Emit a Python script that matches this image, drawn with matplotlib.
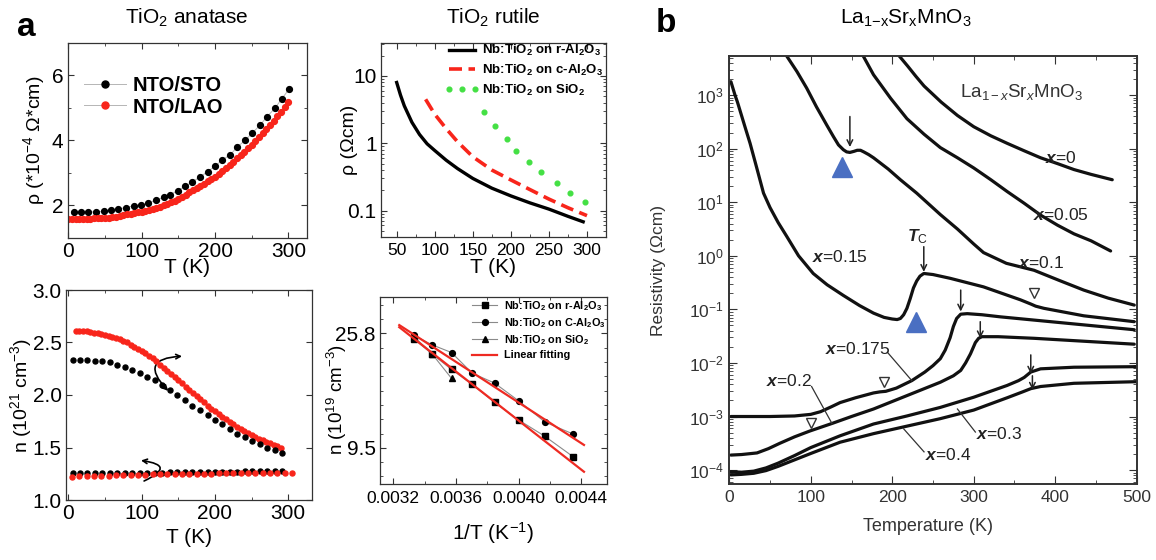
import numpy as np
import matplotlib
matplotlib.use('Agg')
import matplotlib.pyplot as plt
from matplotlib.patches import FancyArrowPatch
from matplotlib.ticker import FixedLocator, MultipleLocator, LogLocator, NullFormatter, FixedFormatter

plt.rcParams['font.family'] = ['Liberation Sans', 'DejaVu Sans']
plt.rcParams['mathtext.fontset'] = 'custom'
plt.rcParams['mathtext.rm'] = 'Liberation Sans'
plt.rcParams['mathtext.it'] = 'Liberation Sans:italic'
plt.rcParams['mathtext.bf'] = 'Liberation Sans:bold'
try:
    plt.rcParams['mathtext.bfit'] = 'Liberation Sans:bold:italic'
except Exception:
    pass

# ---------------- data: TiO2 anatase, resistivity ----------------
T_sto = [7, 17, 27, 38, 48, 58, 68, 78, 89, 99, 109, 119, 130, 139, 149, 159, 169, 180,
         190, 200, 210, 221, 230, 241, 251, 261, 271, 282, 291, 301]
rho_sto = [1.79, 1.79, 1.79, 1.80, 1.81, 1.84, 1.88, 1.93, 1.98, 2.01, 2.06, 2.16, 2.24,
           2.33, 2.45, 2.58, 2.72, 2.88, 3.04, 3.20, 3.40, 3.56, 3.79, 4.00, 4.23, 4.46,
           4.73, 5.00, 5.28, 5.58]
T_lao = list(range(0, 301, 5))
rho_lao = [1.58, 1.58, 1.58, 1.58, 1.585, 1.587, 1.59, 1.592, 1.595, 1.60, 1.61, 1.62,
           1.635, 1.65, 1.67, 1.69, 1.72, 1.745, 1.77, 1.785, 1.80, 1.825, 1.85, 1.885,
           1.92, 1.96, 2.00, 2.045, 2.09, 2.145, 2.20, 2.265, 2.33, 2.395, 2.46, 2.53,
           2.60, 2.67, 2.74, 2.81, 2.88, 2.97, 3.06, 3.145, 3.23, 3.34, 3.45, 3.545,
           3.64, 3.75, 3.86, 3.975, 4.09, 4.22, 4.35, 4.475, 4.60, 4.74, 4.88, 5.025, 5.17]

# ---------------- data: TiO2 anatase, carrier density ----------------
T_n_lao_hi = list(range(10, 291, 5))
n_lao_hi = [2.61, 2.61, 2.61, 2.605, 2.60, 2.595, 2.59, 2.58, 2.575, 2.565, 2.555, 2.54,
            2.53, 2.515, 2.50, 2.48, 2.46, 2.44, 2.42, 2.40, 2.375, 2.35, 2.32, 2.29,
            2.26, 2.23, 2.20, 2.17, 2.14, 2.11, 2.08, 2.05, 2.02, 1.99, 1.96, 1.93, 1.90,
            1.87, 1.845, 1.82, 1.795, 1.77, 1.745, 1.72, 1.70, 1.68, 1.66, 1.64, 1.62,
            1.60, 1.585, 1.57, 1.555, 1.54, 1.525, 1.51, 1.50]
T_n_sto_hi = [6, 16, 26, 36, 46, 57, 67, 77, 87, 98, 108, 118, 128, 139, 149, 159, 169,
              180, 190, 200, 210, 220, 230, 241, 251, 261, 271, 282, 292]
n_sto_hi = [2.333, 2.333, 2.33, 2.327, 2.32, 2.31, 2.29, 2.27, 2.24, 2.21, 2.17, 2.14,
            2.10, 2.05, 2.00, 1.95, 1.90, 1.86, 1.81, 1.76, 1.72, 1.68, 1.63, 1.60, 1.56,
            1.53, 1.50, 1.48, 1.45]
T_n_sto_lo = [6, 16, 26, 36, 46, 57, 67, 77, 87, 98, 108, 118, 128, 139, 149, 159, 169,
              180, 190, 200, 210, 220, 230, 241, 251, 261, 271, 282, 292]
n_sto_lo = [1.258, 1.258, 1.258, 1.258, 1.258, 1.258, 1.258, 1.259, 1.259, 1.26, 1.26,
            1.26, 1.261, 1.262, 1.262, 1.263, 1.264, 1.265, 1.266, 1.268, 1.269, 1.27,
            1.271, 1.272, 1.272, 1.272, 1.272, 1.272, 1.272]
T_n_lao_lo = [5, 15, 25, 35, 45, 55, 65, 75, 85, 95, 105, 115, 125, 135, 145, 155, 165,
              175, 185, 195, 205, 215, 225, 235, 245, 255, 265, 275, 285, 295, 305]
n_lao_lo = [1.222, 1.224, 1.226, 1.228, 1.23, 1.232, 1.234, 1.236, 1.238, 1.24, 1.241,
            1.243, 1.244, 1.246, 1.247, 1.248, 1.249, 1.25, 1.251, 1.252, 1.253, 1.254,
            1.255, 1.256, 1.257, 1.258, 1.259, 1.26, 1.26, 1.259, 1.254]

# ---------------- data: TiO2 rutile, resistivity ----------------
T_r_al = [50, 55, 60, 70, 80, 90, 100, 115, 130, 150, 175, 200, 225, 250, 275, 295]
rho_r_al = [8.0, 5.2, 3.6, 2.05, 1.35, 0.98, 0.78, 0.56, 0.42, 0.30, 0.215, 0.165,
            0.13, 0.105, 0.082, 0.068]
T_c_al = [88, 100, 115, 130, 150, 175, 200, 225, 250, 275, 300]
rho_c_al = [4.5, 2.7, 1.65, 1.05, 0.63, 0.40, 0.285, 0.205, 0.148, 0.11, 0.084]
T_sio2 = [165, 179, 195, 207, 224, 240, 260, 278, 298]
rho_sio2 = [2.95, 1.83, 1.15, 0.78, 0.52, 0.37, 0.255, 0.18, 0.136]

# ---------------- data: TiO2 rutile, n vs 1/T ----------------
invT = [1/300, 1/290, 1/280, 1/270, 1/260, 1/250, 1/240, 1/230]
n_r_al = [24.5, 21.5, 18.8, 16.5, 14.1, 12.1, 10.5, 8.78]
n_c_al = [25.3, 23.3, 21.8, 18.2, 16.7, 14.3, 11.9, 10.7]
invT_sio2 = [1/300, 1/290, 1/280]
n_sio2 = [25.0, 21.5, 17.4]
fit_invT = [0.003238, 0.004417]
fit_c_al = [27.7, 9.73]
fit_r_al = [27.2, 7.70]

# ---------------- data: La1-xSrxMnO3 resistivity (log10 of Ohm cm) ----------------
T_x0 = [205, 208, 219, 229, 239, 260, 280, 300, 321, 341, 362, 382, 403, 423, 444, 470]
lg_x0 = [3.80, 3.74, 3.54, 3.35, 3.17, 2.87, 2.62, 2.41, 2.24, 2.10, 1.96, 1.83, 1.72,
         1.61, 1.52, 1.42]
T_x005 = [160, 164, 177, 198, 218, 239, 259, 280, 300, 321, 341, 362, 382, 403, 423, 444, 468]
lg_x005 = [3.9, 3.74, 3.38, 2.94, 2.56, 2.27, 2.02, 1.83, 1.64, 1.42, 1.20, 0.98, 0.76,
           0.57, 0.41, 0.28, 0.09]
T_x01 = [66, 70, 83, 95, 107, 120, 128, 134, 140, 144, 148, 153, 157, 161, 165, 171, 177,
         195, 210, 230, 259, 280, 300, 312, 340, 374, 405, 435, 465, 497]
lg_x01 = [3.95, 3.74, 3.44, 3.13, 2.78, 2.43, 2.22, 2.07, 1.98, 1.94, 1.93, 1.95, 1.97,
          1.97, 1.94, 1.89, 1.83, 1.62, 1.42, 1.17, 0.77, 0.50, 0.22, 0.06, -0.14, -0.27,
          -0.46, -0.64, -0.79, -0.92]
T_x015 = [2, 4, 7, 10, 13, 20, 25.5, 33, 42, 50, 60, 70.6, 85, 103, 120, 140, 160, 177,
          190, 200, 206, 210, 214, 218, 222, 226, 230, 234, 238.7, 250, 271, 312, 357, 370,
          376, 386, 435, 497]
lg_x015 = [3.25, 3.15, 3.0, 2.87, 2.72, 2.37, 2.10, 1.68, 1.17, 0.90, 0.62, 0.36, 0.0,
           -0.33, -0.54, -0.74, -0.93, -1.07, -1.15, -1.18, -1.19, -1.17, -1.10, -0.98,
           -0.80, -0.60, -0.47, -0.38, -0.33, -0.35, -0.42, -0.58, -0.82, -0.90, -0.94,
           -0.98, -1.12, -1.23]
T_x0175 = [2, 50, 80, 100, 112, 125, 136, 155, 177, 185, 192, 205, 224, 240, 250, 259, 265,
           271, 275, 279, 284, 292, 310, 333, 415, 497]
lg_x0175 = [-3.0, -3.0, -2.99, -2.96, -2.91, -2.82, -2.74, -2.65, -2.56, -2.54, -2.53,
            -2.47, -2.33, -2.17, -2.05, -1.92, -1.76, -1.53, -1.32, -1.17, -1.09, -1.08,
            -1.10, -1.14, -1.26, -1.38]
T_x02 = [2, 15, 34, 48, 62, 80, 99, 126, 150, 177, 218, 259, 275, 284, 290, 296, 302, 306,
         310, 330, 374, 497]
lg_x02 = [-3.72, -3.71, -3.68, -3.60, -3.50, -3.38, -3.27, -3.13, -3.00, -2.86, -2.61,
          -2.36, -2.24, -2.14, -2.00, -1.83, -1.62, -1.54, -1.51, -1.51, -1.54, -1.65]
T_x03 = [2, 15, 30, 45, 60, 80, 100, 136, 177, 218, 259, 300, 341, 355, 362, 370, 382, 423, 500]
lg_x03 = [-4.03, -4.04, -4.02, -3.96, -3.87, -3.73, -3.58, -3.36, -3.14, -2.99, -2.83,
          -2.64, -2.42, -2.33, -2.27, -2.17, -2.11, -2.08, -2.07]
T_x04 = [2, 15, 30, 45, 60, 80, 100, 136, 177, 218, 259, 300, 341, 360, 370, 382, 423, 500]
lg_x04 = [-4.09, -4.08, -4.06, -4.01, -3.93, -3.81, -3.69, -3.48, -3.32, -3.18, -3.04,
          -2.88, -2.65, -2.54, -2.48, -2.44, -2.38, -2.35]
blue_tri_T = [138.3, 228.8]
blue_tri_lg = [1.66, -1.23]
open_tri_T = [100, 190, 374]
open_tri_lg = [-3.12, -2.36, -0.70]

W, H = 1156, 560
fig = plt.figure(figsize=(W / 100, H / 100), dpi=100)


def px_axes(l, t, r, b):
    return fig.add_axes([l / W, 1 - b / H, (r - l) / W, (b - t) / H])


def style_box(ax, lw=0.9, color='#333333'):
    for s in ax.spines.values():
        s.set_linewidth(lw)
        s.set_color(color)
    ax.tick_params(which='both', direction='in', top=True, right=True, color=color)
    ax.tick_params(which='major', length=4)
    ax.tick_params(which='minor', length=2.5)


RED = '#f8251b'

# ---------------- panel a1 ----------------
ax1 = px_axes(67.7, 43, 306.7, 237.7)
ax1.plot(T_sto, rho_sto, '-', color='#b5b5b5', lw=0.7, marker='o', ms=4.2,
         mfc='black', mec='black', label='NTO/STO')
ax1.plot(T_lao, rho_lao, '-', color='#b5b5b5', lw=0.7, marker='o', ms=4.2,
         mfc=RED, mec=RED, label='NTO/LAO')
ax1.set_xlim(-1, 325)
ax1.set_ylim(1, 7)
style_box(ax1)
ax1.xaxis.set_major_locator(FixedLocator([0, 100, 200, 300]))
ax1.xaxis.set_minor_locator(MultipleLocator(50))
ax1.yaxis.set_major_locator(FixedLocator([2, 4, 6]))
ax1.yaxis.set_minor_locator(MultipleLocator(1))
ax1.tick_params(labelsize=15, pad=3)
ax1.set_xlabel('T (K)', fontsize=15)
ax1.set_ylabel(r'ρ (*10$^{-4}$ Ω*cm)', fontsize=14)
ax1.xaxis.set_label_coords(0.5, -0.105)
ax1.yaxis.set_label_coords(-0.087, 0.5)
ax1.legend(loc='upper left', bbox_to_anchor=(0.068, 0.83), frameon=False,
           prop={'weight': 'bold', 'size': 14.5}, handlelength=2.1,
           handletextpad=0.3, labelspacing=0.12, borderaxespad=0, borderpad=0,
           markerscale=1.2)

# ---------------- panel a2 ----------------
ax2 = px_axes(66, 290, 311.7, 500)
ax2.plot(T_n_lao_hi, n_lao_hi, 'o', color=RED, ms=3.6)
ax2.plot(T_n_sto_hi, n_sto_hi, 'o', color='black', ms=3.6)
ax2.plot(T_n_sto_lo, n_sto_lo, 'o', color='black', ms=3.6)
ax2.plot(T_n_lao_lo, n_lao_lo, 'o', color=RED, ms=3.6)
ax2.set_xlim(-3, 332)
ax2.set_ylim(1, 3)
style_box(ax2)
ax2.xaxis.set_major_locator(FixedLocator([0, 100, 200, 300]))
ax2.xaxis.set_minor_locator(MultipleLocator(50))
ax2.yaxis.set_major_locator(FixedLocator([1.0, 1.5, 2.0, 2.5, 3.0]))
ax2.yaxis.set_major_formatter(FixedFormatter(['1.0', '1.5', '2.0', '2.5', '3.0']))
ax2.tick_params(labelsize=15, pad=3)
ax2.set_xlabel('T (K)', fontsize=15)
ax2.set_ylabel(r'n (10$^{21}$ cm$^{-3}$)', fontsize=14)
ax2.xaxis.set_label_coords(0.5, -0.133)
ax2.yaxis.set_label_coords(-0.13, 0.5)
ax2.add_patch(FancyArrowPatch((139, 2.02), (159, 2.37), connectionstyle='arc3,rad=-1.15',
                              arrowstyle='<->', mutation_scale=8, lw=1.2, color='black'))
ax2.add_patch(FancyArrowPatch((100, 1.17), (95.5, 1.38), connectionstyle='arc3,rad=1.8',
                              arrowstyle='->', mutation_scale=8, lw=1.2, color='black'))

# ---------------- panel a3 ----------------
ax3 = px_axes(380.7, 43.3, 606, 237.3)
lab_r = r'Nb:TiO$_\mathbf{2}$ on r-Al$_\mathbf{2}$O$_\mathbf{3}$'
lab_c = r'Nb:TiO$_\mathbf{2}$ on c-Al$_\mathbf{2}$O$_\mathbf{3}$'
lab_C = r'Nb:TiO$_\mathbf{2}$ on C-Al$_\mathbf{2}$O$_\mathbf{3}$'
lab_s = r'Nb:TiO$_\mathbf{2}$ on SiO$_\mathbf{2}$'
ax3.plot(T_r_al, rho_r_al, '-', color='black', lw=2.4, label=lab_r)
ax3.plot(T_c_al, rho_c_al, '--', color=RED, lw=2.6, dashes=(3.6, 1.8), label=lab_c)
ax3.plot(T_sio2, rho_sio2, 'o', color='#44e044', ms=3.4, ls='none', label=lab_s)
ax3.set_yscale('log')
ax3.set_xlim(29, 325)
ax3.set_ylim(0.040, 30.6)
style_box(ax3)
ax3.xaxis.set_major_locator(FixedLocator([50, 100, 150, 200, 250, 300]))
ax3.xaxis.set_minor_locator(MultipleLocator(25))
ax3.yaxis.set_major_locator(FixedLocator([0.1, 1, 10]))
ax3.yaxis.set_major_formatter(FixedFormatter(['0.1', '1', '10']))
ax3.yaxis.set_minor_locator(LogLocator(base=10, subs=np.arange(2, 10)))
ax3.yaxis.set_minor_formatter(NullFormatter())
ax3.tick_params(axis='y', labelsize=15, pad=3)
ax3.tick_params(axis='x', labelsize=12.5, pad=4)
ax3.set_xlabel('T (K)', fontsize=15)
ax3.set_ylabel('ρ (Ωcm)', fontsize=14)
ax3.xaxis.set_label_coords(0.5, -0.107)
ax3.yaxis.set_label_coords(-0.10, 0.5)
ax3.legend(loc='upper right', bbox_to_anchor=(0.99, 1.0), frameon=False,
           prop={'weight': 'bold', 'size': 9.5}, handlelength=2.6, handletextpad=0.25,
           labelspacing=0.35, numpoints=3, borderaxespad=0, borderpad=0)

# ---------------- panel a4 ----------------
ax4 = px_axes(380, 297.3, 606.7, 484)
ax4.plot(invT, n_r_al, '-', color='#8a8a8a', lw=0.8, marker='s', ms=4, mfc='black',
         mec='black', label=lab_r)
ax4.plot(invT, n_c_al, '-', color='#8a8a8a', lw=0.8, marker='o', ms=4.2, mfc='black',
         mec='black', label=lab_C)
ax4.plot(invT_sio2, n_sio2, '-', color='#8a8a8a', lw=0.8, marker='^', ms=4.6, mfc='black',
         mec='black', label=lab_s)
ax4.plot(fit_invT, fit_c_al, '-', color='#ee2a22', lw=1.6, label='Linear fitting')
ax4.plot(fit_invT, fit_r_al, '-', color='#ee2a22', lw=1.6)
ax4.set_yscale('log')
ax4.set_xlim(0.003115, 0.004562)
ax4.set_ylim(6.92, 35.3)
style_box(ax4)
ax4.xaxis.set_major_locator(FixedLocator([0.0032, 0.0036, 0.0040, 0.0044]))
ax4.xaxis.set_major_formatter(FixedFormatter(['0.0032', '0.0036', '0.0040', '0.0044']))
ax4.xaxis.set_minor_locator(FixedLocator([0.0034, 0.0038, 0.0042]))
ax4.yaxis.set_major_locator(FixedLocator([9.5, 25.8]))
ax4.yaxis.set_major_formatter(FixedFormatter(['9.5', '25.8']))
ax4.yaxis.set_minor_locator(FixedLocator(list(np.exp(np.arange(1.875, 3.6, 0.125)))))
ax4.yaxis.set_minor_formatter(NullFormatter())
ax4.tick_params(axis='y', labelsize=15, pad=3)
ax4.tick_params(axis='x', labelsize=12.5, pad=5)
ax4.set_xlabel(r'1/T (K$^{-1}$)', fontsize=15)
ax4.set_ylabel(r'n (10$^{19}$ cm$^{-3}$)', fontsize=13.5)
ax4.xaxis.set_label_coords(0.5, -0.193)
ax4.yaxis.set_label_coords(-0.135, 0.45)
ax4.legend(loc='upper right', bbox_to_anchor=(0.995, 0.99), frameon=False,
           prop={'weight': 'bold', 'size': 7.8}, handlelength=2.3, handletextpad=0.6,
           labelspacing=0.3, borderaxespad=0, borderpad=0)

# ---------------- panel b ----------------
ax5 = px_axes(729.3, 56, 1136.7, 484)
INK = '#111111'
for T, lg in [(T_x0, lg_x0), (T_x005, lg_x005), (T_x01, lg_x01), (T_x015, lg_x015),
              (T_x0175, lg_x0175), (T_x02, lg_x02), (T_x03, lg_x03), (T_x04, lg_x04)]:
    ax5.plot(T, 10 ** np.array(lg), '-', color=INK, lw=2.3, solid_capstyle='round',
             solid_joinstyle='round')
ax5.plot(blue_tri_T, 10 ** np.array(blue_tri_lg), '^', color='#4a6fc2', ms=15, ls='none')
ax5.plot(open_tri_T, 10 ** np.array(open_tri_lg), 'v', mfc='white', mec='#333333',
         mew=1.0, ms=6.5, ls='none')
ax5.set_yscale('log')
ax5.set_xlim(0, 500)
ax5.set_ylim(10 ** -4.26, 10 ** 3.73)
style_box(ax5, lw=1.4, color='#333333')
ax5.xaxis.set_major_locator(MultipleLocator(100))
ax5.xaxis.set_minor_locator(MultipleLocator(50))
ax5.yaxis.set_major_locator(LogLocator(base=10, numticks=20))
ax5.yaxis.set_minor_locator(LogLocator(base=10, subs=np.arange(2, 10), numticks=20))
ax5.yaxis.set_minor_formatter(NullFormatter())
ax5.tick_params(which='major', length=6)
ax5.tick_params(which='minor', length=3)
ax5.tick_params(labelsize=12.5, colors='#333333', pad=4)
ax5.set_xlabel('Temperature (K)', fontsize=13, color='#333333')
ax5.set_ylabel('Resistivity (Ωcm)', fontsize=12.5, color='#333333')
ax5.xaxis.set_label_coords(0.488, -0.079)
ax5.yaxis.set_label_coords(-0.155, 0.5)

BI = r'$\mathbfit{x}$'
lab_kw = dict(fontsize=12.5, color='#222222', ha='center', va='center')
for txt, T, lg in [('=0', 407, 1.83), ('=0.05', 407, 0.77), ('=0.1', 382, -0.13),
                   ('=0.15', 136, -0.03), ('=0.175', 157, -1.74), ('=0.2', 73, -2.33),
                   ('=0.3', 331, -3.32), ('=0.4', 269, -3.72)]:
    ax5.text(T, 10 ** lg, BI + txt, **lab_kw)
ax5.text(230.5, 10 ** 0.36, r'$\mathbfit{T}_\mathrm{C}$', fontsize=12.5, ha='center',
         va='center', color='#222222')
ax5.text(358, 10 ** 3.06, r'La$_{1-\mathit{x}}$Sr$_\mathit{x}$MnO$_3$', fontsize=13.5,
         ha='center', va='center', color='#333333')
for (t1, l1), (t2, l2) in [((194, -1.80), (224, -2.33)), ((101, -2.44), (126, -3.13)),
                           ((302, -3.29), (280, -2.86)), ((239, -3.66), (214, -3.23))]:
    ax5.plot([t1, t2], [10 ** l1, 10 ** l2], '-', color='#333333', lw=0.9)
for T, l1, l2 in [(148, 2.60, 2.03), (238.7, 0.17, -0.30), (284, -0.64, -1.04),
                  (308, -1.23, -1.54), (370, -1.85, -2.20), (372, -2.24, -2.50)]:
    ax5.annotate('', xy=(T, 10 ** l2), xytext=(T, 10 ** l1),
                 arrowprops=dict(arrowstyle='->', lw=1.1, color='#222222',
                                 shrinkA=0, shrinkB=0))

# ---------------- titles and panel letters ----------------
fig.text(187 / W, 1 - 18 / H, r'TiO$_2$ anatase', ha='center', va='center', fontsize=15)
fig.text(493 / W, 1 - 18 / H, r'TiO$_2$ rutile', ha='center', va='center', fontsize=15)
fig.text(906 / W, 1 - 18 / H, r'La$_{1\mathrm{-x}}$Sr$_\mathrm{x}$MnO$_3$', ha='center',
         va='center', fontsize=15)
fig.text(26 / W, 1 - 28 / H, 'a', ha='center', va='center', fontsize=24, fontweight='bold')
fig.text(666 / W, 1 - 24 / H, 'b', ha='center', va='center', fontsize=24, fontweight='bold')

fig.savefig('out.png', dpi=100)
